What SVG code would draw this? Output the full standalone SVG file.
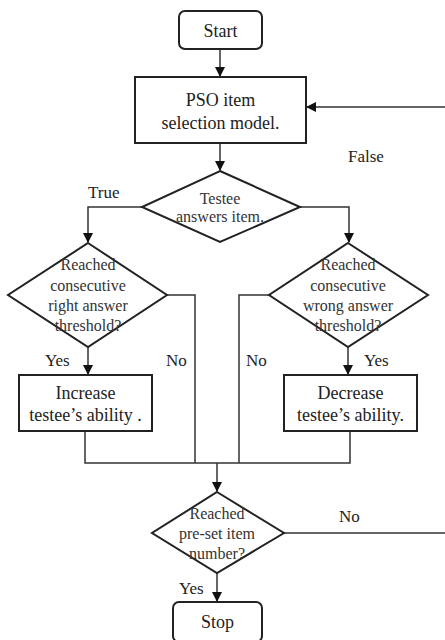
<svg xmlns="http://www.w3.org/2000/svg" width="445" height="640" viewBox="0 0 445 640">
<style>
.n{fill:#fff;stroke:#222;stroke-width:2}
.c{fill:none;stroke:#333;stroke-width:1.5}
text{font-family:"Liberation Serif","Times New Roman",serif}
.t{font-size:18px;fill:#222;text-anchor:middle}
.d{font-size:16px;fill:#333;text-anchor:middle}
.l{font-size:17px;fill:#222}
</style>
<defs>
<marker id="a" markerWidth="10" markerHeight="10" refX="9" refY="5" orient="auto" markerUnits="userSpaceOnUse">
<path d="M0,0 L10,5 L0,10 Z" fill="#111"/>
</marker>
</defs>
<g id="connectors">
<line class="c" x1="220" y1="49" x2="220" y2="76" marker-end="url(#a)"/>
<line class="c" x1="220" y1="143" x2="220" y2="170" marker-end="url(#a)"/>
<polyline class="c" points="142,207 88,207 88,242" marker-end="url(#a)"/>
<polyline class="c" points="300,207 349,207 349,242" marker-end="url(#a)"/>
<line class="c" x1="88" y1="347" x2="88" y2="374" marker-end="url(#a)"/>
<line class="c" x1="348" y1="347" x2="348" y2="374" marker-end="url(#a)"/>
<polyline class="c" points="167,295 195,295 195,463"/>
<polyline class="c" points="269,295 239,295 239,463"/>
<polyline class="c" points="85,431 85,463 350,463 350,431"/>
<line class="c" x1="217" y1="463" x2="217" y2="491" marker-end="url(#a)"/>
<line class="c" x1="217" y1="573" x2="217" y2="601" marker-end="url(#a)"/>
<line class="c" x1="284" y1="533" x2="445" y2="533"/>
<line class="c" x1="445" y1="107" x2="307" y2="107" marker-end="url(#a)"/>
<text class="l" x="348" y="162">False</text>
<text class="l" x="88" y="198">True</text>
<text class="l" x="45" y="366">Yes</text>
<text class="l" x="166" y="366">No</text>
<text class="l" x="246" y="366">No</text>
<text class="l" x="364" y="366">Yes</text>
<text class="l" x="339" y="522">No</text>
<text class="l" x="179" y="594">Yes</text>
</g>
<g id="start">
<rect class="n" x="179" y="11" width="83" height="38" rx="6"/>
<text class="t" x="220.5" y="37">Start</text>
</g>
<g id="pso">
<rect class="n" x="135" y="77" width="171" height="66"/>
<text class="t" x="220.5" y="106">PSO item</text>
<text class="t" x="220.5" y="129">selection model.</text>
</g>
<g id="testee">
<polygon class="n" points="220,171 300,207 220,242 142,207"/>
<text class="d" x="220" y="204">Testee</text>
<text class="d" x="220" y="222">answers item.</text>
</g>
<g id="right-threshold">
<polygon class="n" points="88,243 167,295 88,347 8,295"/>
<text class="d" x="88" y="270">Reached</text>
<text class="d" x="88" y="291">consecutive</text>
<text class="d" x="88" y="311">right answer</text>
<text class="d" x="88" y="331">threshold?</text>
</g>
<g id="wrong-threshold">
<polygon class="n" points="348,243 428,295 348,347 269,295"/>
<text class="d" x="348" y="270">Reached</text>
<text class="d" x="348" y="291">consecutive</text>
<text class="d" x="348" y="311">wrong answer</text>
<text class="d" x="348" y="331">threshold?</text>
</g>
<g id="increase">
<rect class="n" x="19" y="375" width="133" height="56"/>
<text class="t" x="85.5" y="399">Increase</text>
<text class="t" x="85.5" y="421">testee’s ability .</text>
</g>
<g id="decrease">
<rect class="n" x="284" y="375" width="133" height="56"/>
<text class="t" x="350.5" y="399">Decrease</text>
<text class="t" x="350.5" y="421">testee’s ability.</text>
</g>
<g id="preset">
<polygon class="n" points="217,492 284,533 217,573 152,533"/>
<text class="d" x="217" y="519">Reached</text>
<text class="d" x="217" y="539">pre-set item</text>
<text class="d" x="217" y="559">number?</text>
</g>
<g id="stop">
<rect class="n" x="173" y="602" width="89" height="40" rx="6"/>
<text class="t" x="217.5" y="628">Stop</text>
</g>
</svg>
